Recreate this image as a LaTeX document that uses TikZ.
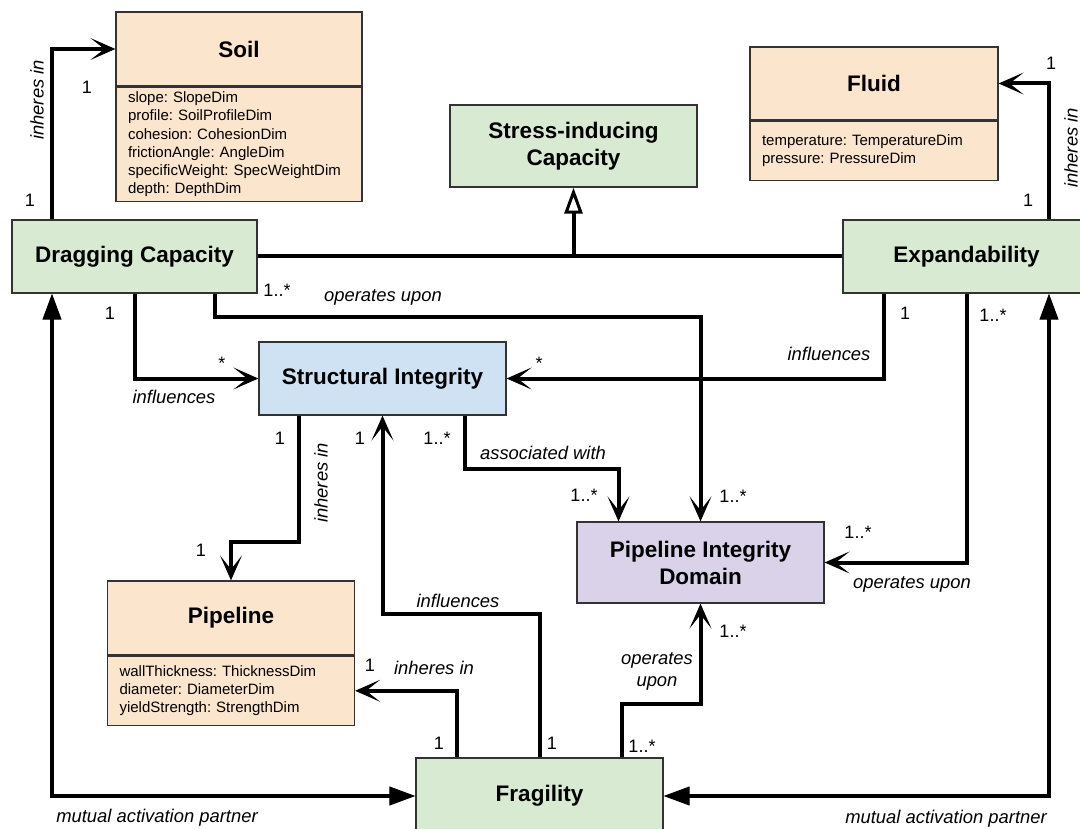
\documentclass[tikz,border=0pt]{standalone}
\usepackage{fontspec}
\setmainfont{Liberation Sans}
\usetikzlibrary{arrows.meta}
\definecolor{clsgreen}{HTML}{D9EAD3}
\definecolor{clsorange}{HTML}{FCE5CD}
\definecolor{clsblue}{HTML}{CFE2F3}
\definecolor{clspurple}{HTML}{D9D2E9}
\definecolor{clsline}{HTML}{333333}
\frenchspacing
\begin{document}
\begin{tikzpicture}[x=1pt,y=-1pt,
	cls/.style={draw=clsline, line width=1.3pt, inner sep=0pt, align=center, font=\fontsize{22.5}{27}\selectfont\bfseries},
	attr/.style={draw=clsline, line width=1.3pt, fill=clsorange, inner xsep=12pt, inner ysep=0pt, align=left, anchor=north, font=\fontsize{15}{18.3}\selectfont},
	conn/.style={line width=4pt},
	assoc/.style={conn, -{Stealth[length=25pt,width=22pt,inset=14pt,line width=1pt]}},
	mutual/.style={conn, {Triangle[length=26pt,width=19pt,line width=1pt]}-{Triangle[length=26pt,width=19pt,line width=1pt]}},
	isa/.style={conn, -{Triangle[open,length=26pt,width=18pt,line width=3pt]}},
	lbl/.style={font=\fontsize{18.4}{22}\selectfont\itshape, inner sep=0pt},
	mult/.style={font=\fontsize{18}{22}\selectfont, inner sep=0pt}]
	\path[use as bounding box, clip] (0,0) rectangle (1080,829);
	% classes
	\node[cls, fill=clsorange, minimum width=246pt, minimum height=74pt] (soil) at (239,49) {Soil};
	\node[attr, text width=222pt, minimum height=114pt] (soilattr) at (soil.south) {slope: SlopeDim\\profile: SoilProfileDim\\cohesion: CohesionDim\\frictionAngle: AngleDim\\specificWeight: SpecWeightDim\\depth: DepthDim};
	\node[cls, fill=clsorange, minimum width=248pt, minimum height=73pt] (fluid) at (874,83.5) {Fluid};
	\node[attr, text width=224pt, minimum height=59pt] (fluidattr) at (fluid.south) {temperature: TemperatureDim\\pressure: PressureDim};
	\node[cls, fill=clsgreen, minimum width=247pt, minimum height=82pt] (stress) at (573.5,146) {Stress-inducing\\Capacity};
	\node[cls, fill=clsgreen, minimum width=245pt, minimum height=73pt] (drag) at (134.5,256.5) {Dragging Capacity};
	\node[cls, fill=clsgreen, minimum width=247pt, minimum height=73pt] (expand) at (966.5,256.5) {Expandability};
	\node[cls, fill=clsblue, minimum width=247pt, minimum height=73pt] (si) at (382.5,378.5) {Structural Integrity};
	\node[cls, fill=clspurple, minimum width=247pt, minimum height=81pt] (pid) at (700.5,562.5) {Pipeline Integrity\\Domain};
	\node[cls, fill=clsorange, minimum width=247pt, minimum height=74pt] (pipe) at (231,618) {Pipeline};
	\node[attr, text width=223pt, minimum height=69pt] (pipeattr) at (pipe.south) {wallThickness: ThicknessDim\\diameter: DiameterDim\\yieldStrength: StrengthDim};
	\node[cls, fill=clsgreen, minimum width=247pt, minimum height=76pt] (frag) at (539.5,796) {Fragility};
	% connectors
	\draw[conn] (drag.east) -- (expand.west);
	\draw[isa] (drag.east -| stress.south) -- (stress.south);
	\draw[assoc] ([xshift=-82.5pt]drag.north) |- (soil.west);
	\draw[assoc] ([xshift=82.5pt]expand.north) |- (fluid.east);
	\draw[assoc] (drag.south) |- (si.west);
	\draw[assoc] ([xshift=80.5pt]drag.south) -- ++(0,23) -| (pid.north);
	\draw[assoc] ([xshift=-82.5pt]expand.south) |- (si.east);
	\draw[assoc] (expand.south) |- (pid.east);
	\draw[assoc] ([xshift=-83.5pt]si.south) -- ++(0,126) -| (pipe.north);
	\draw[assoc] ([xshift=82pt]si.south) -- ++(0,53) -| ([xshift=-82pt]pid.north);
	\draw[assoc] (frag.north) -- ++(0,-143) -| (si.south);
	\draw[assoc] ([xshift=-82.5pt]frag.north) |- (pipeattr.east);
	\draw[assoc] ([xshift=82pt]frag.north) -- ++(0,-53) -| (pid.south);
	\draw[mutual] ([xshift=-82.5pt]drag.south) |- (frag.west);
	\draw[mutual] ([xshift=82.5pt]expand.south) |- (frag.east);
	% labels
	\node[lbl, rotate=90] (t1) at (37,100) {inheres in};
	\node[mult] (m1) at (87,87) {1};
	\node[mult] (m2) at (30,200) {1};
	\node[lbl, rotate=90] (t2) at (1071,148) {inheres in};
	\node[mult] (m3) at (1051,63) {1};
	\node[mult] (m4) at (1028,200) {1};
	\node[mult] (m5) at (277,290) {1..*};
	\node[lbl] (t3) at (383,297) {operates upon};
	\node[mult] (m6) at (733,496) {1..*};
	\node[mult] (m7) at (110,313) {1};
	\node[mult] (m8) at (222,363) {*};
	\node[lbl] (t4) at (174,397) {influences};
	\node[mult] (m9) at (905,313) {1};
	\node[mult] (m10) at (993,315) {1..*};
	\node[lbl] (t5) at (829,354) {influences};
	\node[mult] (m11) at (539,363) {*};
	\node[mult] (m12) at (280,438) {1};
	\node[mult] (m13) at (360,438) {1};
	\node[mult] (m14) at (437,438) {1..*};
	\node[lbl] (t6) at (543,453) {associated with};
	\node[mult] (m15) at (584,495) {1..*};
	\node[lbl, rotate=90] (t7) at (321,483) {inheres in};
	\node[mult] (m16) at (201,550) {1};
	\node[mult] (m17) at (858,532) {1..*};
	\node[lbl] (t8) at (912,584) {operates upon};
	\node[mult] (m18) at (733,631) {1..*};
	\node[lbl] (t9) at (458,601) {influences};
	\node[mult] (m19) at (370,665) {1};
	\node[lbl] (t10) at (434,668) {inheres in};
	\node[lbl, align=center] (t11) at (657,671) {operates\\upon};
	\node[mult] (m20) at (439,743) {1};
	\node[mult] (m21) at (552,743) {1};
	\node[mult] (m22) at (642,746) {1..*};
	\node[lbl] (t12) at (157,818) {mutual activation partner};
	\node[lbl] (t13) at (946,819) {mutual activation partner};
\end{tikzpicture}
\end{document}
